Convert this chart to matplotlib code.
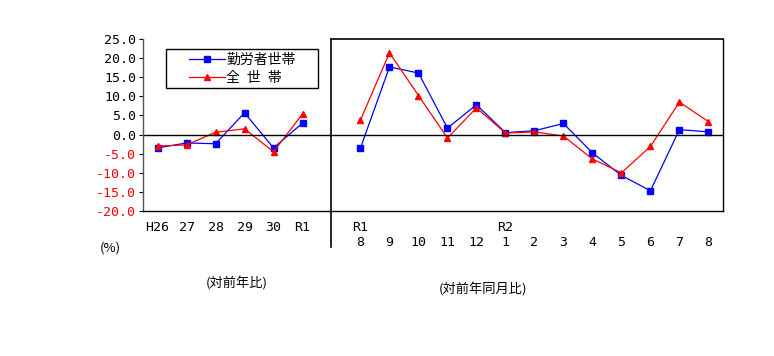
import matplotlib.pyplot as plt
import matplotlib.transforms as mtransforms
from matplotlib.patches import Rectangle
import numpy as np

plt.rcParams['font.family'] = ['Noto Sans CJK JP', 'DejaVu Sans']
mono = ['DejaVu Sans Mono', 'Noto Sans CJK JP']

# annual change (left part)
year_labels = ['H26', '27', '28', '29', '30', 'R1']
year_workers = [-3.5, -2.2, -2.4, 5.7, -3.5, 3.0]
year_all = [-3.0, -2.7, 0.6, 1.5, -4.5, 5.4]

# change on same month of previous year (right part)
month_top = ['R1', '', '', '', '', 'R2', '', '', '', '', '', '', '']
month_labels = ['8', '9', '10', '11', '12', '1', '2', '3', '4', '5', '6', '7', '8']
month_workers = [-3.5, 17.7, 16.1, 1.7, 7.8, 0.5, 1.0, 2.9, -4.8, -10.7, -14.7, 1.3, 0.7]
month_all = [3.8, 21.4, 10.2, -0.9, 7.0, 0.4, 0.7, -0.4, -6.4, -10.0, -3.1, 8.5, 3.4]

fig = plt.figure(figsize=(7.74, 3.56), dpi=100)
ax = fig.add_axes([0.1848, 0.4073, 0.7492, 0.4831])

xl = np.arange(len(year_labels))
xr = np.arange(len(month_labels)) + len(year_labels) + 1
split = len(year_labels)

blue = '#0000ff'
red = '#ff0000'
ax.plot(xl, year_workers, color=blue, lw=0.9, marker='s', ms=4.5, label='勤労者世帯')
ax.plot(xl, year_all, color=red, lw=0.9, marker='^', ms=4.5, label='全\u2002世\u2002帯')
ax.plot(xr, month_workers, color=blue, lw=0.9, marker='s', ms=4.5)
ax.plot(xr, month_all, color=red, lw=0.9, marker='^', ms=4.5)

ax.set_xlim(-0.5, xr[-1] + 0.5)
ax.set_ylim(-20, 25)
ax.axhline(0, color='black', lw=1)

# frame: no top line over the annual part
ax.spines['top'].set_visible(False)
ax.spines['right'].set_color('black')
ax.spines['left'].set_color('#555555')
ax.spines['bottom'].set_color('black')
for s in ax.spines.values():
    s.set_linewidth(1)
ax.plot([split, xr[-1] + 0.5], [25, 25], color='black', lw=1.2, clip_on=False)
trans = mtransforms.blended_transform_factory(ax.transData, ax.transAxes)
ax.plot([split, split], [1.0, -0.21], color='black', lw=1.2, transform=trans, clip_on=False)

yt = np.arange(-20, 26, 5)
ax.set_yticks(yt)
ax.set_yticklabels([f'{v:.1f}' for v in yt], fontsize=9.5, family=mono)
for lab, v in zip(ax.get_yticklabels(), yt):
    lab.set_color('red' if v < 0 else 'black')
ax.tick_params(axis='y', length=3, width=0.8, pad=2)
ax.set_xticks([])

for x, lab in zip(xl, year_labels):
    ax.text(x, -0.06, lab, transform=trans, ha='center', va='top', fontsize=9.5, family=mono)
for x, top, lab in zip(xr, month_top, month_labels):
    if top:
        ax.text(x, -0.06, top, transform=trans, ha='center', va='top', fontsize=9.5, family=mono)
    ax.text(x, -0.145, lab, transform=trans, ha='center', va='top', fontsize=9.5, family=mono)

fig.text(110 / 774, 1 - 248 / 356, '(%)', ha='center', va='center', fontsize=9.5)
fig.text(237 / 774, 1 - 283 / 356, '(対前年比)', ha='center', va='center', fontsize=9.5)
fig.text(483 / 774, 1 - 289 / 356, '(対前年同月比)', ha='center', va='center', fontsize=9.5)

# legend box drawn separately so the entries sit centred in it
ax.add_patch(Rectangle((0.0397, 0.715), 0.262, 0.227, transform=ax.transAxes,
                       facecolor='white', edgecolor='black', lw=1, zorder=4))
leg = ax.legend(loc='center', bbox_to_anchor=(0.1707, 0.8285), frameon=False,
                fontsize=10, handlelength=2.6, borderpad=0, labelspacing=0.3,
                handletextpad=0.1, borderaxespad=0)
leg.set_zorder(5)

fig.savefig('out.png', dpi=100)
